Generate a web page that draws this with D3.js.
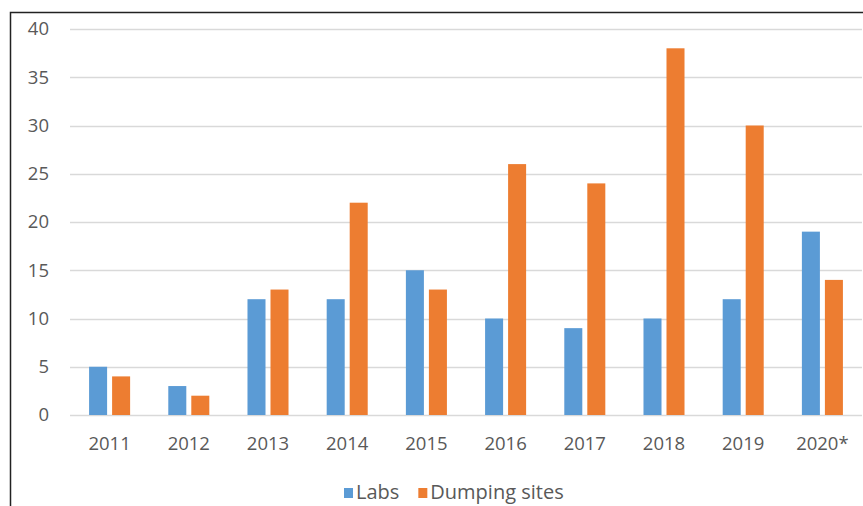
<!DOCTYPE html>
<html lang="en">
<head>
<meta charset="utf-8">
<title>labs and dumping sites</title>
<script src="https://d3js.org/d3.v7.min.js"></script>
<style>
  body { margin: 0; background: #fff; font-family: "Open Sans", sans-serif; }
  text { fill: #595959; }
</style>
</head>
<body>
<div id="chart"></div>
<script>
// values
var years = ["2011", "2012", "2013", "2014", "2015", "2016", "2017", "2018", "2019", "2020*"]
var labs = [5, 3, 12, 12, 15, 10, 9, 10, 12, 19]
var dumping = [4, 2, 13, 22, 13, 26, 24, 38, 30, 14]
var seriesNames = ["Labs", "Dumping sites"]
var colors = ["#5B9BD5", "#ED7D31"]
var yTicks = [0, 5, 10, 15, 20, 25, 30, 35, 40]

var w = 863, h = 506
var plotLeft = 70, plotRight = 862, plotTop = 29, plotBottom = 415

var svg = d3.select("#chart").append("svg")
    .attr("width", w)
    .attr("height", h)

// frame of the pasted chart (only top and left edges show)
svg.append("path")
    .attr("d", "M10.5," + h + "V12.5H" + w)
    .attr("fill", "none")
    .attr("stroke", "#222")
    .attr("stroke-width", 1.5)

var yScale = d3.scaleLinear().domain([0, 40]).range([plotBottom, plotTop])
var x0 = d3.scaleBand().domain(years).range([plotLeft, plotRight])
    .paddingInner(0.482).paddingOuter(0.241)
var x1 = d3.scaleBand().domain([0, 1]).range([0, x0.bandwidth()]).paddingInner(0.217)

// gridlines
svg.append("g")
    .selectAll("line")
    .data(yTicks)
    .enter()
    .append("line")
    .attr("x1", plotLeft)
    .attr("x2", plotRight)
    .attr("y1", function(d) { return Math.round(yScale(d)) + 0.5 })
    .attr("y2", function(d) { return Math.round(yScale(d)) + 0.5 })
    .attr("stroke", "#D9D9D9")
    .attr("stroke-width", 1.3)

// y labels
svg.append("g")
    .selectAll("text")
    .data(yTicks)
    .enter()
    .append("text")
    .attr("x", 49)
    .attr("y", function(d) { return yScale(d) })
    .attr("dy", "0.35em")
    .attr("text-anchor", "end")
    .style("font-size", "18.5px")
    .text(function(d) { return d })

// bars
var rows = years.map(function(y, i) { return { year: y, vals: [labs[i], dumping[i]] } })
var groups = svg.append("g")
    .selectAll("g")
    .data(rows)
    .enter()
    .append("g")
    .attr("transform", function(d) { return "translate(" + x0(d.year) + ",0)" })

groups.selectAll("rect")
    .data(function(d) { return d.vals })
    .enter()
    .append("rect")
    .attr("x", function(d, i) { return x1(i) })
    .attr("y", function(d) { return yScale(d) })
    .attr("width", x1.bandwidth())
    .attr("height", function(d) { return plotBottom - yScale(d) })
    .attr("fill", function(d, i) { return colors[i] })

// x labels
svg.append("g")
    .selectAll("text")
    .data(years)
    .enter()
    .append("text")
    .attr("x", function(d) { return x0(d) + x0.bandwidth() / 2 })
    .attr("y", 450)
    .attr("text-anchor", "middle")
    .style("font-size", "18.5px")
    .text(function(d) { return d })

// legend
var lx = 344
seriesNames.forEach(function(name, i) {
    svg.append("rect")
        .attr("x", lx)
        .attr("y", 488)
        .attr("width", 9)
        .attr("height", 10)
        .attr("fill", colors[i])
    var t = svg.append("text")
        .attr("x", lx + 12)
        .attr("y", 499)
        .style("font-size", "20px")
        .text(name)
    lx = lx + 12 + t.node().getComputedTextLength() + 19
})
</script>
</body>
</html>
